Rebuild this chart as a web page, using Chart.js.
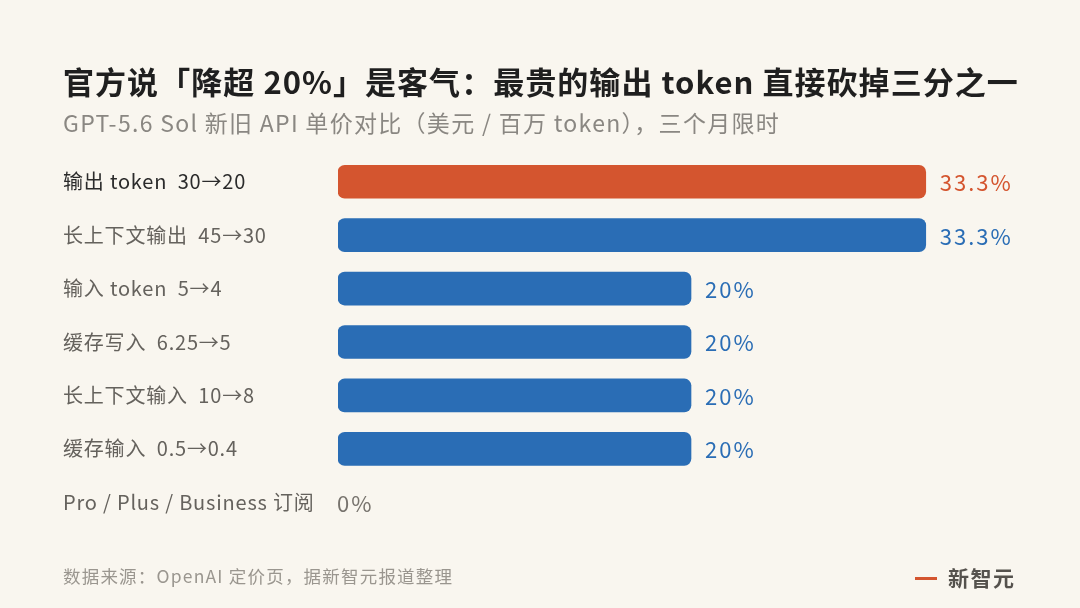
<!DOCTYPE html>
<html>
<head>
<meta charset="utf-8">
<script src="https://cdn.jsdelivr.net/npm/chart.js@4"></script>
<style>
  body { margin: 0; background: #f9f6ef; font-family: "Noto Sans CJK SC", "Noto Sans", sans-serif; }
  #wrap { position: relative; width: 1080px; height: 608px; overflow: hidden; }
  canvas { position: absolute; left: 0; top: 0; }
  .txt { position: absolute; white-space: nowrap; }
  #title { left: 63px; top: 58px; font-size: 31px; font-weight: 700; color: #1f1f1f; letter-spacing: 1.05px; }
  #sub { left: 63px; top: 105px; font-size: 23px; color: #8a8782; letter-spacing: 1.3px; }
  #src { left: 63px; top: 563px; font-size: 17.5px; color: #9a968f; letter-spacing: 1.2px; }
  #brand { left: 915px; top: 562px; font-size: 21px; font-weight: 700; color: #55524d; letter-spacing: 1.5px; }
  #brand span { display: inline-block; width: 22px; height: 3px; background: #d4552f; vertical-align: middle; margin-right: 11px; position: relative; top: -2px; }
</style>
</head>
<body>
<div id="wrap">
  <canvas id="chart" width="1080" height="608"></canvas>
  <div class="txt" id="title">官方说「降超 20%」是客气：最贵的输出 token 直接砍掉三分之一</div>
  <div class="txt" id="sub">GPT-5.6 Sol 新旧 API 单价对比（美元 / 百万 token），三个月限时</div>
  <div class="txt" id="src">数据来源：OpenAI 定价页，据新智元报道整理</div>
  <div class="txt" id="brand"><span></span>新智元</div>
</div>
<script>
const categories = [
    '输出 token  30→20',
    '长上下文输出  45→30',
    '输入 token  5→4',
    '缓存写入  6.25→5',
    '长上下文输入  10→8',
    '缓存输入  0.5→0.4',
    'Pro / Plus / Business 订阅'
];
const cuts = [33.3, 33.3, 20, 20, 20, 20, 0];
const cutLabels = ['33.3%', '33.3%', '20%', '20%', '20%', '20%', '0%'];

const ORANGE = '#d4552f';
const BLUE = '#2a6db5';
const barColors = cuts.map((v, i) => v === 0 ? 'rgba(0,0,0,0)' : (i === 0 ? ORANGE : BLUE));
const labelColors = cuts.map((v, i) => i === 0 ? ORANGE : (v === 0 ? '#77736d' : BLUE));

// letter spacing for the category tick labels
const tickSpacing = {
    id: 'tickSpacing',
    beforeDraw(chart) {
        chart.ctx.letterSpacing = '0.8px';
    }
};

// value labels at the end of each bar
const valueLabels = {
    id: 'valueLabels',
    afterDatasetsDraw(chart) {
        const ctx = chart.ctx;
        const meta = chart.getDatasetMeta(0);
        ctx.save();
        ctx.font = '22px "Noto Sans CJK SC", "Noto Sans", sans-serif';
        ctx.letterSpacing = '2px';
        ctx.textBaseline = 'middle';
        ctx.textAlign = 'left';
        meta.data.forEach((bar, i) => {
            const x = cuts[i] === 0 ? bar.x - 1 : bar.x + 14;
            ctx.fillStyle = labelColors[i];
            ctx.fillText(cutLabels[i], x, bar.y + 1);
        });
        ctx.restore();
    }
};

new Chart(document.getElementById('chart').getContext('2d'), {
    type: 'bar',
    data: {
        labels: categories,
        datasets: [{
            data: cuts,
            backgroundColor: barColors,
            borderRadius: 7,
            borderSkipped: false,
            barThickness: 33
        }]
    },
    options: {
        indexAxis: 'y',
        responsive: false,
        animation: false,
        devicePixelRatio: 1,
        layout: {
            padding: { left: 63, right: 36, top: 155, bottom: 79 }
        },
        plugins: {
            legend: { display: false },
            tooltip: { enabled: false }
        },
        scales: {
            x: {
                display: false,
                min: 0,
                max: 40
            },
            y: {
                afterFit(scale) { scale.width = 275; },
                grid: { display: false },
                border: { display: false },
                ticks: {
                    crossAlign: 'far',
                    padding: 0,
                    color: ctx => ctx.index === 0 ? '#2b2b2b' : '#65625d',
                    font: { size: 20, family: '"Noto Sans CJK SC", "Noto Sans", sans-serif' }
                }
            }
        }
    },
    plugins: [tickSpacing, valueLabels]
});
</script>
</body>
</html>
